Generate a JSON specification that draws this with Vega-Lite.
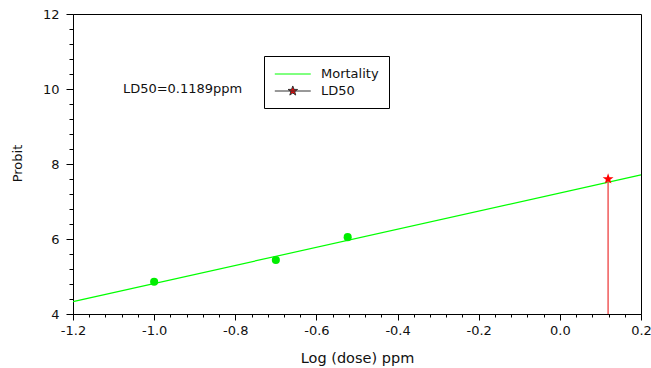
{
  "$schema": "https://vega.github.io/schema/vega-lite/v6.json",
  "width": 568,
  "height": 300,
  "autosize": "none",
  "padding": {"left": 73, "top": 14, "right": 10, "bottom": 54},
  "background": "white",
  "config": {
    "view": {"stroke": "#000", "strokeWidth": 1},
    "font": "DejaVu Sans"
  },
  "datasets": {
    "fitline": [
      {"x": -1.2, "probit": 4.33, "series": "Mortality"},
      {"x": 0.2, "probit": 7.71, "series": "Mortality"}
    ],
    "obs": [
      {"x": -1.0, "probit": 4.86},
      {"x": -0.7, "probit": 5.44},
      {"x": -0.523, "probit": 6.05}
    ],
    "ld50": [
      {"x": 0.1189, "probit": 7.6, "base": 4, "series": "LD50"}
    ],
    "note": [
      {"x": -1.077, "probit": 10.0, "label": "LD50=0.1189ppm"}
    ]
  },
  "encoding": {
    "x": {
      "field": "x",
      "type": "quantitative",
      "scale": {"domain": [-1.2, 0.2], "nice": false, "zero": false},
      "axis": {
        "title": "Log (dose) ppm",
        "values": [-1.2, -1.16, -1.12, -1.08, -1.04, -1.0, -0.96, -0.92, -0.88, -0.84, -0.8, -0.76, -0.72, -0.68, -0.64, -0.6, -0.56, -0.52, -0.48, -0.44, -0.4, -0.36, -0.32, -0.28, -0.24, -0.2, -0.16, -0.12, -0.08, -0.04, 0, 0.04, 0.08, 0.12, 0.16, 0.2],
        "labelExpr": "abs(datum.value*5 - round(datum.value*5)) < 0.001 ? replace(format(datum.value, '.1f'), '\u2212', '-') : ''",
        "tickSize": {"condition": {"test": "abs(datum.value*5 - round(datum.value*5)) < 0.001", "value": 6}, "value": 3},
        "grid": false,
        "domainColor": "#000",
        "tickColor": "#000",
        "labelFont": "DejaVu Sans",
        "labelFontSize": 13,
        "labelColor": "#111",
        "labelPadding": 4,
        "labelFlush": false,
        "labelOverlap": false,
        "labelBound": false,
        "titleFont": "DejaVu Sans",
        "titleFontSize": 14.5,
        "titleFontWeight": "normal",
        "titleColor": "#111",
        "titleX": 284,
        "titleY": 44,
        "titleBaseline": "middle",
        "titleAlign": "center"
      }
    },
    "y": {
      "field": "probit",
      "type": "quantitative",
      "scale": {"domain": [4, 12], "nice": false, "zero": false},
      "axis": {
        "title": "Probit",
        "values": [4, 4.4, 4.8, 5.2, 5.6, 6, 6.4, 6.8, 7.2, 7.6, 8, 8.4, 8.8, 9.2, 9.6, 10, 10.4, 10.8, 11.2, 11.6, 12],
        "labelExpr": "abs(datum.value/2 - round(datum.value/2)) < 0.001 ? format(datum.value, 'd') : ''",
        "tickSize": {"condition": {"test": "abs(datum.value/2 - round(datum.value/2)) < 0.001", "value": 7}, "value": 4},
        "grid": false,
        "domainColor": "#000",
        "tickColor": "#000",
        "labelFont": "DejaVu Sans",
        "labelFontSize": 13,
        "labelColor": "#111",
        "labelPadding": 7,
        "labelFlush": false,
        "labelOverlap": false,
        "labelBound": false,
        "titleFont": "DejaVu Sans",
        "titleFontSize": 13,
        "titleFontWeight": "normal",
        "titleColor": "#111",
        "titleAngle": -90,
        "titleX": -56,
        "titleY": 149,
        "titleBaseline": "middle",
        "titleAlign": "center"
      }
    }
  },
  "layer": [
    {
      "data": {"name": "fitline"},
      "mark": {"type": "line", "strokeWidth": 1.2},
      "encoding": {
        "color": {
          "field": "series",
          "type": "nominal",
          "scale": {"domain": ["Mortality", "LD50"], "range": ["#00ff00", "#333333"]},
          "legend": {
            "title": null,
            "orient": "none",
            "legendX": 191,
            "legendY": 42,
            "fillColor": "white",
            "strokeColor": "#000",
            "padding": 10,
            "rowPadding": 2,
            "symbolSize": 207,
            "symbolStrokeWidth": 1,
            "symbolOffset": 0,
            "labelFont": "DejaVu Sans",
            "labelFontSize": 13,
            "labelColor": "#111",
            "labelOffset": 31,
            "encode": {
              "symbols": {
                "update": {
                  "shape": {"signal": "datum.value === 'LD50' ? 'M-1,0H4M1.5,-0.7L1.665,-0.227L2.166,-0.216L1.766,0.087L1.911,0.566L1.5,0.28L1.089,0.566L1.234,0.087L0.834,-0.216L1.335,-0.227Z' : 'M-1,0H4'"},
                  "fill": {"signal": "datum.value === 'LD50' ? '#ff0000' : 'transparent'"},
                  "strokeWidth": {"value": 1}
                }
              }
            }
          }
        }
      }
    },
    {
      "data": {"name": "ld50"},
      "mark": {"type": "rule", "color": "#f05a5a", "strokeWidth": 1.5},
      "encoding": {"y2": {"field": "base"}}
    },
    {
      "data": {"name": "obs"},
      "mark": {"type": "point", "filled": true, "size": 65, "color": "#00ee00", "opacity": 1},
      "encoding": {}
    },
    {
      "data": {"name": "ld50"},
      "mark": {"type": "point", "shape": "M0,-1L0.235,-0.324L0.951,-0.309L0.38,0.124L0.588,0.809L0,0.4L-0.588,0.809L-0.38,0.124L-0.951,-0.309L-0.235,-0.324Z", "filled": true, "size": 130, "color": "#ff0000", "opacity": 1},
      "encoding": {}
    },
    {
      "data": {"name": "note"},
      "mark": {"type": "text", "align": "left", "baseline": "middle", "fontSize": 13, "font": "DejaVu Sans", "color": "#111"},
      "encoding": {"text": {"field": "label"}}
    }
  ]
}
